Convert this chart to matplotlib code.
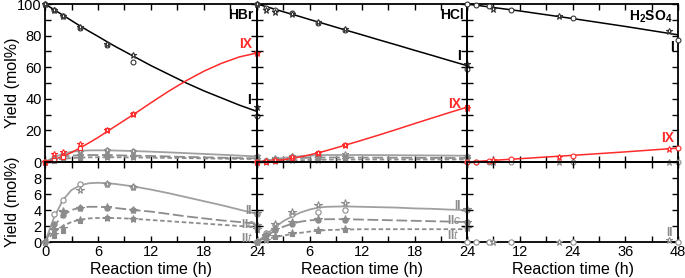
import matplotlib
matplotlib.use("Agg")
import matplotlib.pyplot as plt
from matplotlib.ticker import MultipleLocator, FixedLocator, NullFormatter

plt.rcParams['font.family'] = ['Liberation Sans', 'DejaVu Sans']
plt.rcParams['mathtext.fontset'] = 'custom'
plt.rcParams['mathtext.rm'] = 'Liberation Sans'
plt.rcParams['mathtext.it'] = 'Liberation Sans:italic'
plt.rcParams['mathtext.bf'] = 'Liberation Sans:bold'

# sampling times (h)
t_pts = [0, 1, 2, 4, 7, 10, 24]
t_fit = [0, 1, 2, 3, 4, 5, 6, 7, 8, 10, 12, 14, 16, 18, 20, 22, 24]

# HBr - measured points (two runs: circles / stars)
hbr_I_circ = [100, 96.5, 92.6, 85, 74, 63.6, 29.4]
hbr_I_star = [100, 96, 92.6, 85.2, 75, 68, 35]
hbr_IX_circ = [0, 1, 3.4, 9, 20, 30.5, 69]
hbr_IX_star = [0, 5.3, 6.5, 11.5, 20, 30.5, 69]
hbr_II_circ = [0, 3.45, 5.2, 7.2, 7.3, 6.9, 3.5]
hbr_II_star = [0, 1.5, 3.9, 6.5, 7.3, 6.9, 3.6]
hbr_IIc_circ = [0, 2.2, 3.4, 4.3, 4.3, 4.0, 2.0]
hbr_IIc_star = [0, 1.6, 3.7, 4.2, 4.4, 4.05, 2.1]
hbr_IIt_circ = [0, 0.8, 1.4, 2.6, 2.95, 2.9, 1.5]
hbr_IIt_star = [0, 1.0, 1.8, 2.8, 3.0, 2.85, 1.6]
# HBr - fitted curves
hbr_I_fit = [100, 96.5, 93, 89.5, 86, 82.7, 79.5, 76.2, 73, 67, 61, 55.5, 50, 45, 40.5, 36, 32]
hbr_IX_fit = [0, 1.5, 3.5, 6, 9, 12.2, 15.5, 19.2, 22.8, 30, 37.5, 44.8, 51.5, 57.5, 62.5, 66.5, 69]
hbr_II_fit = [0, 3.0, 5.2, 6.5, 7.1, 7.35, 7.4, 7.35, 7.25, 6.95, 6.55, 6.1, 5.6, 5.1, 4.6, 4.05, 3.5]
hbr_IIc_fit = [0, 2.0, 3.3, 4.0, 4.3, 4.4, 4.4, 4.35, 4.25, 4.0, 3.8, 3.5, 3.2, 2.95, 2.7, 2.5, 2.3]
hbr_IIt_fit = [0, 1.2, 2.0, 2.5, 2.8, 2.95, 3.0, 3.0, 3.0, 2.9, 2.75, 2.6, 2.45, 2.3, 2.15, 2.0, 1.9]

# HCl - measured points
hcl_I_circ = [100, 97.5, 96, 94, 88.2, 83.6, 58.8]
hcl_I_star = [100, 96.5, 95.2, 93.5, 88.5, 84, 62.2]
hcl_IX_circ = [0, 0.2, 0.8, 2.5, 5.9, 10.7, 34.7]
hcl_IX_star = [0, 0.5, 1, 3, 6, 10.5, 34]
hcl_II_circ = [0, 1.1, 2.1, 3.5, 3.8, 4.0, 4.0]
hcl_II_star = [0, 0.9, 2.3, 3.7, 4.6, 4.9, 4.1]
hcl_IIc_circ = [0, 0.9, 1.5, 2.3, 2.7, 2.8, 2.45]
hcl_IIc_star = [0, 0.8, 1.6, 2.5, 2.9, 2.9, 2.5]
hcl_IIt_circ = [0, 0.4, 0.6, 1.0, 1.4, 1.55, 1.7]
hcl_IIt_star = [0, 0.3, 0.7, 1.1, 1.5, 1.6, 1.75]
# HCl - fitted curves
hcl_I_fit = [100, 98.4, 96.8, 95.1, 93.5, 91.9, 90.2, 88.6, 87, 83.7, 80.5, 77.2, 74, 70.7, 67.5, 64.2, 61]
hcl_IX_fit = [0, 0.3, 0.7, 1.4, 2.3, 3.3, 4.5, 5.8, 7.3, 10.5, 13.8, 17.2, 20.7, 24.3, 27.8, 31.3, 34.7]
hcl_II_fit = [0, 0.9, 1.8, 2.6, 3.2, 3.7, 4.05, 4.3, 4.4, 4.45, 4.4, 4.35, 4.3, 4.2, 4.15, 4.05, 4.0]
hcl_IIc_fit = [0, 0.7, 1.4, 1.9, 2.3, 2.55, 2.7, 2.8, 2.85, 2.85, 2.8, 2.75, 2.7, 2.65, 2.6, 2.55, 2.5]
hcl_IIt_fit = [0, 0.3, 0.6, 0.8, 1.0, 1.15, 1.3, 1.4, 1.5, 1.55, 1.6, 1.6, 1.6, 1.6, 1.6, 1.6, 1.6]

# H2SO4 - measured points
t_h2so4_circ = [0, 2, 5, 10, 24, 48]
t_h2so4_star = [6, 21, 46]
h2so4_I_circ = [100, 99.5, 99, 96.2, 91, 76.9]
h2so4_I_star = [96.6, 92.6, 83]
h2so4_IX_circ = [0, 0, 0.4, 1.9, 3.9, 8.8]
h2so4_IX_star = [1.3, 3.1, 8.3]
h2so4_II_circ = [0, 0, 0, 0, 0, 0]
h2so4_II_star = [0, 0, 0.3]
# H2SO4 - fitted curves
t_h2so4_fit = [0, 12, 24, 36, 48]
h2so4_I_fit = [100, 95.6, 90.8, 85.8, 80.5]
h2so4_IX_fit = [0, 2.1, 4.2, 6.4, 8.8]

RED = '#ff2a2a'
GRAY = '#8c8c8c'
LGRAY = '#a0a0a0'
FS = 10.5      # tick labels
FL = 11.5      # axis labels
FA = 10        # annotations

fig = plt.figure(figsize=(6.85, 2.78), dpi=100)
W, H = 685.0, 278.0
cols = [(45, 257), (257, 467), (467, 678)]
top_y = (4, 162)
bot_y = (162, 242)


def make_ax(x0, x1, y0, y1):
    ax = fig.add_axes([x0 / W, 1 - y1 / H, (x1 - x0) / W, (y1 - y0) / H])
    ax.patch.set_alpha(0)
    ax.tick_params(direction='in', which='both', top=True, right=True,
                   length=4, width=1.0, labelsize=FS, pad=2.5)
    for s in ax.spines.values():
        s.set_linewidth(1.3)
    return ax


def pts(ax, t, y, marker, color, filled=False, ms=3.5, z=4):
    ax.plot(t, y, ls='none', marker=marker, ms=ms, mec=color, mew=0.8,
            mfc=color if filled else 'white', clip_on=False, zorder=z)


tops, bots = [], []
for x0, x1 in cols:
    tops.append(make_ax(x0, x1, *top_y))
    bots.append(make_ax(x0, x1, *bot_y))

panels = [
    (t_pts, t_fit, hbr_I_circ, hbr_I_star, hbr_IX_circ, hbr_IX_star,
     hbr_II_circ, hbr_II_star, hbr_IIc_circ, hbr_IIc_star, hbr_IIt_circ, hbr_IIt_star,
     hbr_I_fit, hbr_IX_fit, hbr_II_fit, hbr_IIc_fit, hbr_IIt_fit),
    (t_pts, t_fit, hcl_I_circ, hcl_I_star, hcl_IX_circ, hcl_IX_star,
     hcl_II_circ, hcl_II_star, hcl_IIc_circ, hcl_IIc_star, hcl_IIt_circ, hcl_IIt_star,
     hcl_I_fit, hcl_IX_fit, hcl_II_fit, hcl_IIc_fit, hcl_IIt_fit),
]

for i, p in enumerate(panels):
    (t, tf, Ic, Is, IXc, IXs, IIc_, IIs, IIcc, IIcs, IItc, IIts,
     Ifit, IXfit, IIfit, IIcfit, IItfit) = p
    for ax in (tops[i], bots[i]):
        ax.plot(tf, IIfit, color=LGRAY, lw=1.3, zorder=2)
        ax.plot(tf, IIcfit, color=GRAY, lw=1.3, dashes=(6, 2), zorder=2)
        ax.plot(tf, IItfit, color=GRAY, lw=1.3, dashes=(2.5, 1.5), zorder=2)
    for ax, ms in ((tops[i], 3.2), (bots[i], 3.8)):
        pts(ax, t, IIc_, 'o', GRAY, ms=ms)
        pts(ax, t, IIs, '*', GRAY, ms=ms + 1.5)
        pts(ax, t, IIcc, 'o', GRAY, True, ms=ms)
        pts(ax, t, IIcs, '*', GRAY, True, ms=ms + 1.5)
        pts(ax, t, IItc, 's', GRAY, True, ms=ms - 0.6)
        pts(ax, t, IIts, '*', GRAY, True, ms=ms + 1.5)
    ax = tops[i]
    ax.plot(tf, Ifit, color='black', lw=1.1, zorder=3)
    ax.plot(tf, IXfit, color=RED, lw=1.1, zorder=3)
    pts(ax, t, Ic, 'o', '#333333')
    pts(ax, t, Is, '*', '#333333', ms=5)
    pts(ax, t, IXc, 's', RED, ms=3.2, z=5)
    pts(ax, t, IXs, '*', RED, ms=5, z=5)

# H2SO4 panel
ax = tops[2]
ax.plot(t_h2so4_fit, h2so4_I_fit, color='black', lw=1.1, zorder=3)
ax.plot(t_h2so4_fit, h2so4_IX_fit, color=RED, lw=1.1, zorder=3)
pts(ax, t_h2so4_circ, h2so4_I_circ, 'o', '#333333')
pts(ax, t_h2so4_star, h2so4_I_star, '*', '#333333', ms=5)
pts(ax, t_h2so4_circ, h2so4_IX_circ, 'o', RED, z=5)
pts(ax, t_h2so4_star, h2so4_IX_star, '*', RED, ms=5, z=5)
pts(ax, t_h2so4_circ, h2so4_II_circ, 'o', GRAY, z=3)
pts(ax, t_h2so4_star, h2so4_II_star, '*', GRAY, ms=5, z=3)
ax = bots[2]
pts(ax, t_h2so4_circ, h2so4_II_circ, 'o', GRAY, ms=3.8)
pts(ax, t_h2so4_star, h2so4_II_star, '*', GRAY, ms=5)

# axes limits / ticks
for i in range(3):
    xmax = 48 if i == 2 else 24
    step = 6 if i == 2 else 3
    for ax in (tops[i], bots[i]):
        ax.set_xlim(0, xmax)
        ax.xaxis.set_major_locator(MultipleLocator(step * 2))
        ax.xaxis.set_minor_locator(MultipleLocator(step))
    tops[i].set_ylim(0, 100)
    tops[i].yaxis.set_major_locator(MultipleLocator(20))
    tops[i].yaxis.set_minor_locator(MultipleLocator(10))
    bots[i].set_ylim(0, 10)
    bots[i].yaxis.set_major_locator(FixedLocator([0, 2, 4, 6, 8]))
    tops[i].xaxis.set_major_formatter(NullFormatter())
    if i > 0:
        tops[i].yaxis.set_major_formatter(NullFormatter())
        bots[i].yaxis.set_major_formatter(NullFormatter())
        bots[i].xaxis.set_major_locator(FixedLocator(list(range(2 * step, xmax + 1, 2 * step))))
    bots[i].set_xlabel('Reaction time (h)', fontsize=FL, labelpad=2)

tops[0].set_ylabel('Yield (mol%)', fontsize=FL)
bots[0].set_ylabel('Yield (mol%)', fontsize=FL)
tops[0].yaxis.set_label_coords(-0.12, 0.5)
bots[0].yaxis.set_label_coords(-0.12, 0.5)

# annotations
tb = dict(fontsize=FA, fontweight='bold', ha='right', va='center')
tops[0].text(23.6, 93, 'HBr', **tb)
tops[0].text(23.3, 39, 'I', **tb)
tops[0].text(23.4, 75, 'IX', color=RED, **tb)
tops[1].text(23.6, 93, 'HCl', **tb)
tops[1].text(23.3, 67, 'I', **tb)
tops[1].text(23.3, 37, 'IX', color=RED, **tb)
tops[2].text(46.8, 92, r'$\mathbf{H_2SO_4}$', **tb)
tops[2].text(47.0, 73, 'I', **tb)
tops[2].text(47.2, 15, 'IX', color=RED, **tb)

tg = dict(tb, color=GRAY, fontsize=8.5)
bots[0].text(23.4, 3.9, 'II', **tg)
bots[0].text(23.8, 2.2, r'$\mathbf{II}\mathit{c}$', **tg)
bots[0].text(23.6, 0.4, r'$\mathbf{II}\mathit{t}$', **tg)
bots[1].text(23.3, 4.5, 'II', **tg)
bots[1].text(23.4, 2.65, r'$\mathbf{II}\mathit{c}$', **tg)
bots[1].text(23.1, 0.85, r'$\mathbf{II}\mathit{t}$', **tg)
bots[2].text(46.8, 1.15, 'II', **tg)

fig.savefig('out.png', dpi=100)
